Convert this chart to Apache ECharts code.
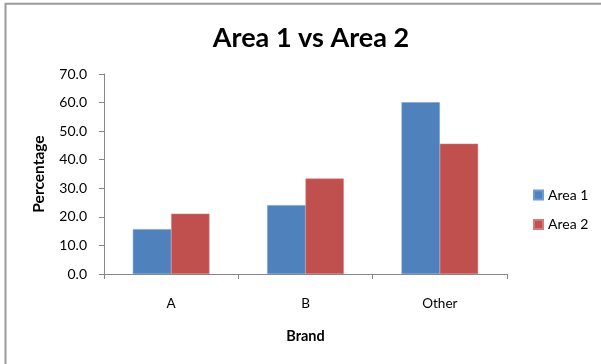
<!DOCTYPE html>
<html>
<head>
<meta charset="utf-8">
<script src="https://cdn.jsdelivr.net/npm/echarts@6/dist/echarts.min.js"></script>
<style>
  html, body { margin: 0; padding: 0; background: #fff; }
  #chart { width: 601px; height: 364px; }
</style>
</head>
<body>
<div id="chart"></div>
<script>
// Brand shares in two areas
const brands = ['A', 'B', 'Other'];
const area1 = [15.7, 24.1, 60.1];
const area2 = [21.1, 33.4, 45.6];
const yTicks = [0, 10, 20, 30, 40, 50, 60, 70];

const font = 'Lato, "Open Sans", sans-serif';
const axisGray = '#868686';

const chart = echarts.init(document.getElementById('chart'), null, { renderer: 'canvas' });
chart.setOption({
  animation: false,
  backgroundColor: '#fff',
  graphic: [{
    type: 'rect',
    shape: { x: 5.5, y: 3.7, width: 620, height: 380 },
    style: { fill: 'none', stroke: '#9a9a9a', lineWidth: 2 },
    silent: true
  }],
  title: {
    text: 'Area 1 vs Area 2',
    left: 306, top: 20, textAlign: 'center',
    textStyle: { fontFamily: font, fontWeight: 'bold', fontSize: 27, color: '#000' }
  },
  legend: {
    orient: 'vertical',
    left: 533, top: 187,
    padding: 0,
    itemWidth: 9, itemHeight: 9, itemGap: 13.5,
    icon: 'rect',
    textStyle: { fontFamily: font, fontSize: 14, lineHeight: 16, color: '#000' },
    data: ['Area 1', 'Area 2']
  },
  grid: { left: 104, right: 94, top: 74, bottom: 90 },
  xAxis: {
    type: 'category',
    data: brands,
    name: 'Brand',
    nameLocation: 'middle',
    nameGap: 55,
    nameTextStyle: { fontFamily: font, fontWeight: 'bold', fontSize: 14.5, color: '#000' },
    axisLine: { lineStyle: { color: axisGray, width: 1 } },
    axisTick: { show: true, length: 5, lineStyle: { color: axisGray } },
    axisLabel: { fontFamily: font, fontSize: 13.5, color: '#000', margin: 23 }
  },
  yAxis: {
    type: 'value',
    min: yTicks[0], max: yTicks[yTicks.length - 1], interval: 10,
    name: 'Percentage',
    nameLocation: 'middle',
    nameGap: 57,
    nameRotate: 90,
    nameTextStyle: { fontFamily: font, fontWeight: 'bold', fontSize: 15.5, color: '#000' },
    axisLine: { show: true, lineStyle: { color: axisGray, width: 1 } },
    axisTick: { show: true, length: 5, lineStyle: { color: axisGray } },
    splitLine: { show: false },
    axisLabel: { fontFamily: font, fontSize: 14, color: '#000', margin: 17,
      formatter: v => v.toFixed(1) }
  },
  series: [
    { name: 'Area 1', type: 'bar', data: area1, barGap: '0%', barCategoryGap: '43%',
      itemStyle: { color: '#4f81bd', borderColor: '#6f9bd0', borderWidth: 0.5 } },
    { name: 'Area 2', type: 'bar', data: area2,
      itemStyle: { color: '#c0504d', borderColor: '#d47a78', borderWidth: 0.5 } }
  ]
});
</script>
</body>
</html>
